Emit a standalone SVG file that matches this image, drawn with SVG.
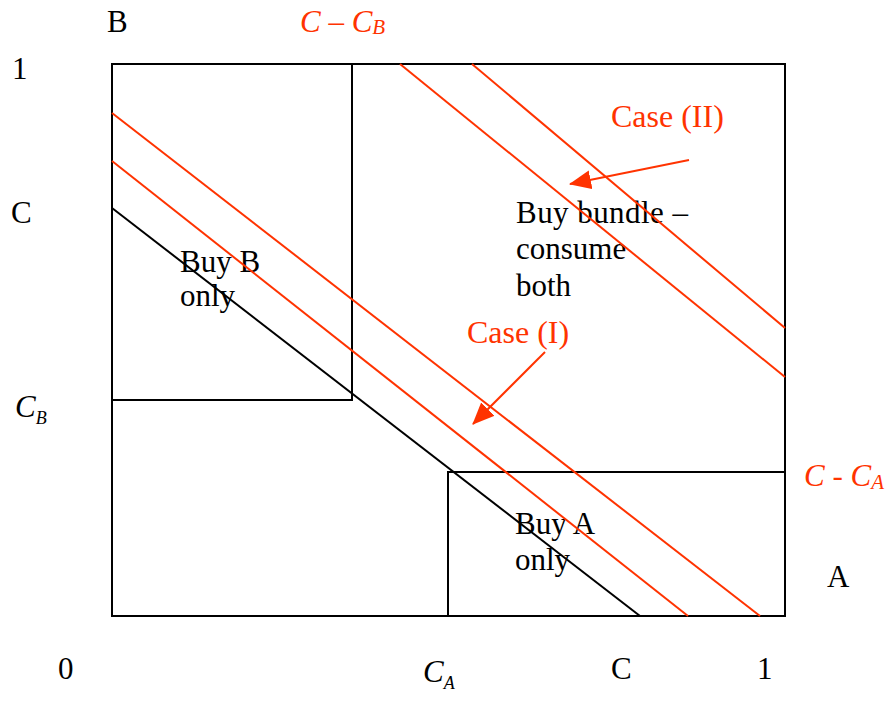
<svg xmlns="http://www.w3.org/2000/svg" width="893" height="701" viewBox="0 0 893 701">
<style>
text{font-family:"Liberation Serif","Times New Roman",serif;font-size:31px;fill:#000}
.red{fill:#ff3300}
.case{font-size:32px}
.it{font-style:italic}
.blk{fill:none;stroke:#000;stroke-width:2}
.rl{stroke:#ff3300;stroke-width:2;fill:none}
</style>
<defs>
<marker id="ah" markerUnits="userSpaceOnUse" markerWidth="23" markerHeight="20" refX="21" refY="9.5" orient="auto">
<path d="M0,0 L22,9.5 L0,19 z" fill="#ff3300"/>
</marker>
</defs>
<rect width="893" height="701" fill="#fff"/>
<g id="frame">
<rect class="blk" x="112" y="64" width="673" height="552"/>
</g>
<g id="region-b">
<polyline class="blk" points="112,400 352,400 352,64"/>
<text x="180" y="272">Buy B</text>
<text x="180" y="306">only</text>
</g>
<g id="region-a">
<polyline class="blk" points="448,616 448,472 785,472"/>
<text x="515" y="534">Buy A</text>
<text x="515" y="570">only</text>
</g>
<g id="region-bundle">
<text x="516" y="223" textLength="172" lengthAdjust="spacing">Buy bundle –</text>
<text x="516" y="259">consume</text>
<text x="516" y="296">both</text>
</g>
<g id="lines">
<line x1="112" y1="208" x2="640" y2="616" stroke="#000" stroke-width="2"/>
<line class="rl" x1="112" y1="113" x2="760" y2="616"/>
<line class="rl" x1="112" y1="161" x2="688" y2="616"/>
<line class="rl" x1="400" y1="64" x2="785" y2="377"/>
<line class="rl" x1="472" y1="64" x2="785" y2="328"/>
</g>
<g id="case-i">
<text class="red case" x="467" y="343">Case (I)</text>
</g>
<g id="case-ii">
<text class="red case" x="611" y="127">Case (II)</text>
</g>
<g id="connectors">
<line class="rl" x1="545" y1="352" x2="473" y2="424" marker-end="url(#ah)"/>
<line class="rl" x1="689" y1="160" x2="570" y2="184" marker-end="url(#ah)"/>
</g>
<g id="axis-labels">
<text x="107" y="32">B</text>
<text x="12" y="79">1</text>
<text x="11" y="223">C</text>
<text class="it" x="15" y="417" font-size="28">C<tspan font-size="18" dy="7">B</tspan></text>
<text x="58" y="679">0</text>
<text class="it" x="423" y="682" font-size="28">C<tspan font-size="18" dy="7">A</tspan></text>
<text x="611" y="679">C</text>
<text x="757" y="679">1</text>
<text x="827" y="587">A</text>
<text class="red it" x="300" y="32" font-size="30">C – C<tspan font-size="21" dy="2">B</tspan></text>
<text class="red it" x="804" y="486" font-size="30">C - C<tspan font-size="21" dy="3">A</tspan></text>
</g>
</svg>
